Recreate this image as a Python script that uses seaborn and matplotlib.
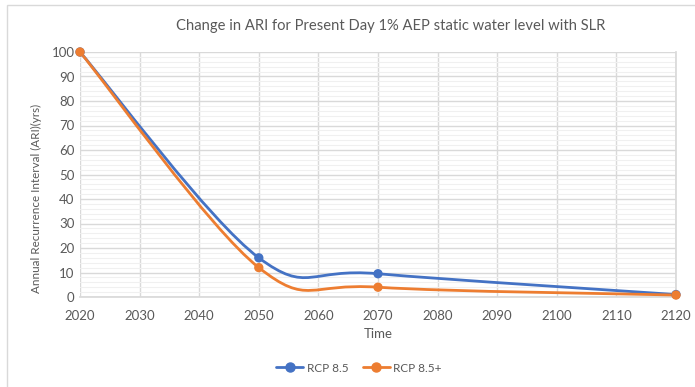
import numpy as np
import pandas as pd
import matplotlib
matplotlib.use("Agg")
import matplotlib.pyplot as plt
from matplotlib.path import Path
from matplotlib.patches import PathPatch, Rectangle
from matplotlib.lines import Line2D
from matplotlib.ticker import MultipleLocator
import seaborn as sns

years = [2020, 2050, 2070, 2120]
rcp85 = [100, 16, 9.5, 1.0]
rcp85_plus = [100, 12, 4, 0.8]
series_names = ["RCP 8.5", "RCP 8.5+"]
colors = ["#4472C4", "#ED7D31"]
title = "Change in ARI for Present Day 1% AEP static water level with SLR"
xlabel = "Time"
ylabel = "Annual Recurrence Interval (ARI)(yrs)"
xticks = list(range(2020, 2121, 10))
yticks = list(range(0, 101, 10))

sns.set_theme(style="white")
plt.rcParams["font.family"] = ["Lato", "DejaVu Sans"]

fig = plt.figure(figsize=(6.95, 3.87), dpi=100)
ax = fig.add_axes([80/695, 1-297/387, 596/695, 245/387])

df = pd.DataFrame({
    "year": years * 2,
    "value": rcp85 + rcp85_plus,
    "series": [series_names[0]] * len(years) + [series_names[1]] * len(years),
})


def smooth_path(xs, ys):
    pts = np.column_stack([xs, ys]).astype(float)
    n = len(pts)
    verts = [pts[0]]
    codes = [Path.MOVETO]
    for i in range(n - 1):
        p0 = pts[i - 1] if i > 0 else pts[i]
        p1 = pts[i]
        p2 = pts[i + 1]
        p3 = pts[i + 2] if i + 2 < n else pts[i + 1]
        c1 = p1 + (p2 - p0) / 6.0
        c2 = p2 - (p3 - p1) / 6.0
        verts += [c1, c2, p2]
        codes += [Path.CURVE4] * 3
    return Path(verts, codes)


for name, col in zip(series_names, colors):
    sub = df[df.series == name]
    patch = PathPatch(smooth_path(sub.year.values, sub.value.values),
                      facecolor="none", edgecolor=col, lw=2.0, zorder=3,
                      capstyle="round", joinstyle="round")
    ax.add_patch(patch)

sns.scatterplot(data=df, x="year", y="value", hue="series", palette=colors,
                s=45, edgecolor="none", ax=ax, legend=False, zorder=4,
                clip_on=False)

ax.set_xlim(2020, 2120)
ax.set_ylim(0, 100)
ax.set_xticks(xticks)
ax.set_yticks(yticks)
ax.yaxis.set_minor_locator(MultipleLocator(2))
ax.grid(True, which="major", color="#D9D9D9", lw=1.0, zorder=1)
ax.grid(True, which="minor", axis="y", color="#F0F0F0", lw=0.8, zorder=0)
ax.set_axisbelow(True)
for s in ["top", "left"]:
    ax.spines[s].set_visible(False)
ax.spines["right"].set_color("#D9D9D9")
ax.spines["bottom"].set_color("#D9D9D9")
ax.tick_params(axis="y", which="both", length=0, labelsize=9.5,
               labelcolor="#595959", pad=4)
ax.tick_params(axis="x", which="both", length=0, labelsize=9.5,
               labelcolor="#595959", pad=9)

ax.set_xlabel(xlabel, fontsize=9.5, color="#595959", labelpad=5)
ax.set_ylabel(ylabel, fontsize=8.4, color="#595959")
ax.yaxis.set_label_coords(-(80 - 42) / 596, (297 - 198) / 245)
fig.text(391/695, 1-26/387, title, ha="center", va="center",
         fontsize=10.6, color="#595959")

handles = [Line2D([0], [0], color=c, lw=2, marker="o", markersize=6.5)
           for c in colors]
fig.legend(handles, series_names, loc="center", bbox_to_anchor=(359/695, 1-368/387),
           ncol=2, frameon=False, fontsize=8.5, labelcolor="#595959",
           handlelength=2.3, columnspacing=1.2, handletextpad=0.3)

fig.patches.append(Rectangle((7/695, -0.1), 1.0, 1 - 5/387 + 0.1,
                             transform=fig.transFigure, fill=False,
                             edgecolor="#D9D9D9", lw=1.0))

fig.savefig("out.png", dpi=100)
